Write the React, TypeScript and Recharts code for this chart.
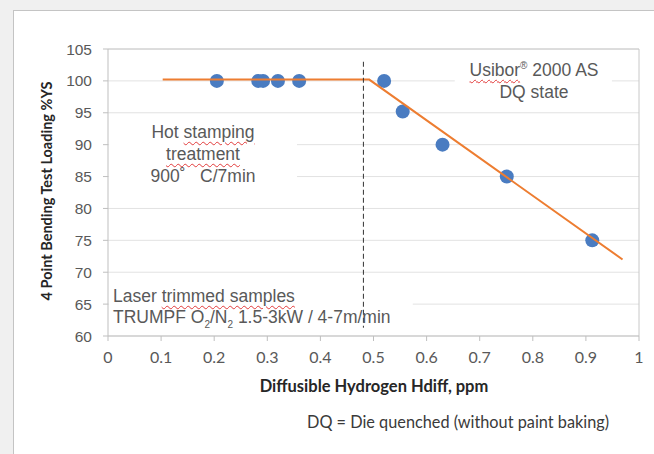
import { ScatterChart, Scatter, XAxis, YAxis, CartesianGrid, ReferenceArea, ReferenceLine } from 'recharts';

// measured points (Hdiff ppm, % of YS)
const HDIFF = [0.205, 0.283, 0.292, 0.32, 0.36, 0.52, 0.555, 0.63, 0.751, 0.912];
const LOADING = [100, 100, 100, 100, 100, 100, 95.2, 90, 85, 75];

// bilinear trend drawn by hand in the original
const FIT_X = [0.103, 0.492, 0.969];
const FIT_Y = [100.2, 100.2, 72];

// dashed threshold marker
const LIMIT_X = [0.481, 0.481];
const LIMIT_Y = [103, 61.3];

const X_TICKS = [0, 0.1, 0.2, 0.3, 0.4, 0.5, 0.6, 0.7, 0.8, 0.9, 1];
const Y_TICKS = [60, 65, 70, 75, 80, 85, 90, 95, 100, 105];

const points = HDIFF.map((x, i) => ({ x, y: LOADING[i] }));
const fit = FIT_X.map((x, i) => ({ x, y: FIT_Y[i] }));
const limit = LIMIT_X.map((x, i) => ({ x, y: LIMIT_Y[i] }));

const TEXT_GRAY = '#595959';
const ARIAL = '"Liberation Sans", Arial, sans-serif';
const CAL = 'Lato, "Open Sans", sans-serif';

const squiggle = {
  textDecorationLine: 'underline',
  textDecorationStyle: 'wavy' as const,
  textDecorationColor: '#e23b3b',
  textDecorationThickness: '1px',
  textUnderlineOffset: '3px',
};

export default function App() {
  return (
    <div style={{ position: 'absolute', left: 0, top: 0, width: 654, height: 454, background: '#f0f0f0', overflow: 'hidden' }}>
      <div
        style={{
          position: 'absolute',
          left: 13,
          top: 10,
          width: 660,
          height: 460,
          background: '#fff',
          borderLeft: '1px solid #c4c4c4',
          borderTop: '1px solid #c4c4c4',
        }}
      />
      <div style={{ position: 'absolute', left: 0, top: 0 }}>
        <ScatterChart width={654} height={454} margin={{ top: 49, right: 15, bottom: 88, left: 48 }}>
          <CartesianGrid vertical={false} stroke="#e2e2e2" />
          {/* white boxes behind the text annotations */}
          <ReferenceArea x1={0.002} x2={0.356} y1={82} y2={94.3} fill="#fff" fillOpacity={1} stroke="none" />
          <ReferenceArea x1={0.653} x2={0.949} y1={96.3} y2={104} fill="#fff" fillOpacity={1} stroke="none" />
          <ReferenceArea x1={0.002} x2={0.574} y1={60.6} y2={68.6} fill="#fff" fillOpacity={1} stroke="none" />
          <ReferenceLine y={105} stroke="#c8c8c8" />
          <ReferenceLine x={1} stroke="#c8c8c8" />
          <XAxis
            type="number"
            dataKey="x"
            domain={[0, 1]}
            ticks={X_TICKS}
            interval={0}
            height={30}
            stroke="#bfbfbf"
            tickSize={5}
            tickMargin={11}
            tick={{ fill: TEXT_GRAY, fontSize: 16, fontFamily: CAL }}
          />
          <YAxis
            type="number"
            dataKey="y"
            domain={[60, 105]}
            ticks={Y_TICKS}
            interval={0}
            width={60}
            stroke="#bfbfbf"
            tickSize={5}
            tickMargin={11}
            tick={{ fill: TEXT_GRAY, fontSize: 15.5, fontFamily: ARIAL }}
          />
          <Scatter
            data={points}
            isAnimationActive={false}
            shape={(p: any) => <circle cx={p.cx} cy={p.cy} r={7} fill="#4a7cc1" />}
          />
          <Scatter
            data={fit}
            isAnimationActive={false}
            line={{ stroke: '#ed7d31', strokeWidth: 2 }}
            shape={() => <g />}
          />
          <Scatter
            data={limit}
            isAnimationActive={false}
            line={{ stroke: '#333', strokeWidth: 1, strokeDasharray: '5 3' }}
            shape={() => <g />}
          />
        </ScatterChart>
      </div>

      {/* axis titles */}
      <div
        style={{
          position: 'absolute',
          left: 47 - 150,
          top: 191 - 10,
          width: 300,
          height: 20,
          lineHeight: '20px',
          textAlign: 'center',
          transform: 'rotate(-90deg)',
          fontFamily: CAL,
          fontWeight: 700,
          fontSize: 14.5,
          color: '#262626',
        }}
      >
        4 Point Bending Test Loading %YS
      </div>
      <div
        style={{
          position: 'absolute',
          left: 374 - 150,
          top: 386 - 11,
          width: 300,
          lineHeight: '22px',
          textAlign: 'center',
          fontFamily: CAL,
          fontWeight: 700,
          fontSize: 16.5,
          color: '#262626',
        }}
      >
        Diffusible Hydrogen Hdiff, ppm
      </div>
      <div
        style={{
          position: 'absolute',
          left: 307,
          top: 422 - 11,
          lineHeight: '22px',
          whiteSpace: 'nowrap',
          fontFamily: CAL,
          fontSize: 16.3,
          color: '#3a3a3a',
        }}
      >
        DQ = Die quenched (without paint baking)
      </div>

      {/* annotations */}
      <div
        style={{
          position: 'absolute',
          left: 103,
          top: 121,
          width: 200,
          textAlign: 'center',
          fontFamily: ARIAL,
          fontSize: 17.5,
          lineHeight: '22px',
          color: TEXT_GRAY,
          whiteSpace: 'pre',
        }}
      >
        <div>
          Hot <span style={squiggle}>stamping</span>
        </div>
        <div>
          <span style={squiggle}>treatment</span>
        </div>
        <div>900˚   C/7min</div>
      </div>
      <div
        style={{
          position: 'absolute',
          left: 434,
          top: 59,
          width: 200,
          textAlign: 'center',
          fontFamily: ARIAL,
          fontSize: 17.5,
          lineHeight: '22px',
          color: TEXT_GRAY,
          whiteSpace: 'nowrap',
        }}
      >
        <div>
          <span style={squiggle}>Usibor</span>
          <sup style={{ fontSize: 10, lineHeight: 0 }}>®</sup> 2000 AS
        </div>
        <div>DQ state</div>
      </div>
      <div
        style={{
          position: 'absolute',
          left: 113,
          top: 286,
          fontFamily: ARIAL,
          fontSize: 17.5,
          lineHeight: '21px',
          color: TEXT_GRAY,
          whiteSpace: 'nowrap',
        }}
      >
        <div>
          Laser <span style={squiggle}>trimmed samples</span>
        </div>
        <div>
          TRUMPF O<sub style={{ fontSize: 10, lineHeight: 0 }}>2</sub>/N<sub style={{ fontSize: 10, lineHeight: 0 }}>2</sub> 1.5-3kW / 4-7m/min
        </div>
      </div>
    </div>
  );
}
